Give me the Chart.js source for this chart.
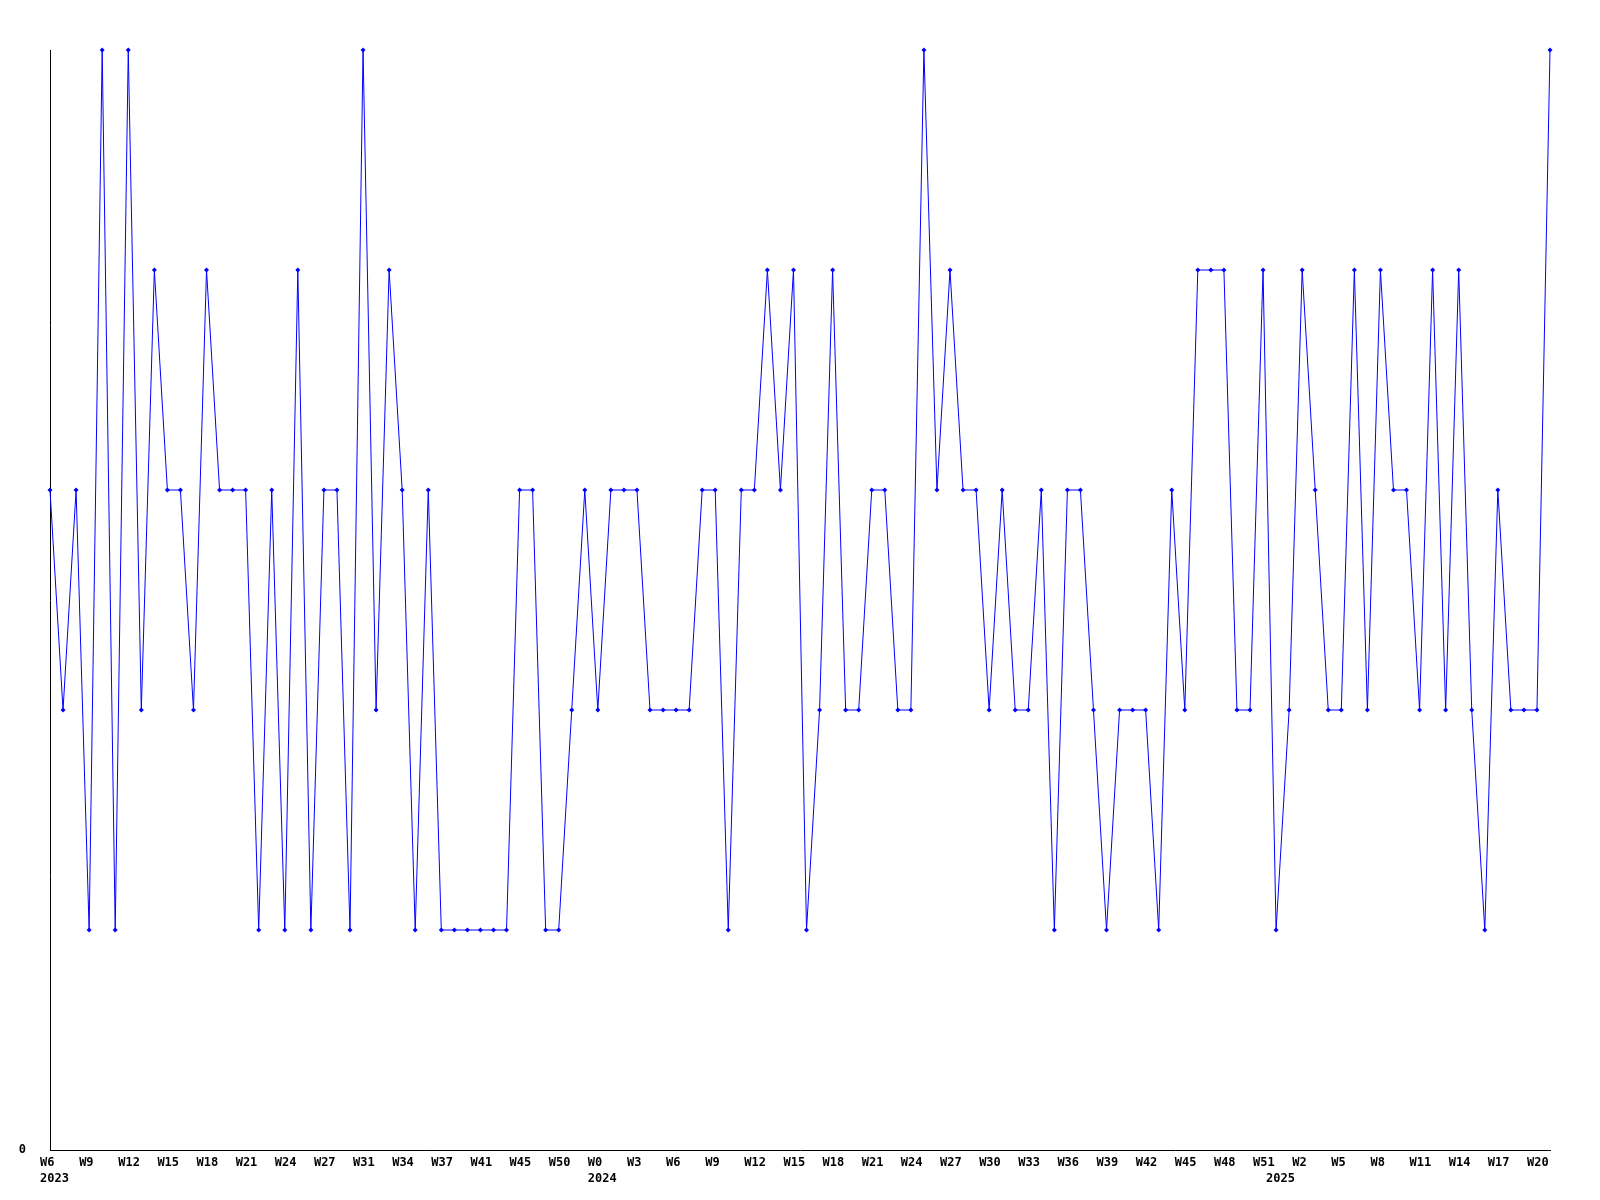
<!DOCTYPE html>
<html><head><meta charset="utf-8">
<style>html,body{margin:0;padding:0;background:#fff;}#wrap{width:1600px;height:1200px;}</style>
<script src="https://cdn.jsdelivr.net/npm/chart.js@4/dist/chart.umd.min.js"></script>
</head><body><div id="wrap"><canvas id="c" width="1600" height="1200"></canvas></div>
<script>
const weekLabels = [
 'W6','W7','W8','W9','W10','W11','W12','W13','W14','W15','W16','W17','W18','W19','W20','W21','W22','W23','W24','W25','W26','W27',
 'W28','W30','W31','W32','W33','W34','W35','W36','W37','W38','W40','W41','W42','W43','W45','W47','W48','W50','W51','W52',
 'W0','W1','W2','W3','W4','W5','W6','W7','W8','W9','W10','W11','W12','W13','W14','W15','W16','W17','W18','W19','W20',
 'W21','W22','W23','W24','W25','W26','W27','W28','W29','W30','W31','W32','W33','W34','W35','W36','W37','W38','W39','W40',
 'W41','W42','W43','W44','W45','W46','W47','W48','W49','W50','W51',
 'W0','W1','W2','W3','W4','W5','W6','W7','W8','W9','W10','W11','W12','W13','W14','W15','W16','W17','W18','W19','W20','W21'
];
const yearIndex = [0, 42, 94];
const yearNames = ['2023', '2024', '2025'];
const values = [
 3,2,3,1,5,1,5,2,4,3,
 3,2,4,3,3,3,1,3,1,4,
 1,3,3,1,5,2,4,3,1,3,
 1,1,1,1,1,1,3,3,1,1,
 2,3,2,3,3,3,2,2,2,2,
 3,3,1,3,3,4,3,4,1,2,
 4,2,2,3,3,2,2,5,3,4,
 3,3,2,3,2,2,3,1,3,3,
 2,1,2,2,2,1,3,2,4,4,
 4,2,2,4,1,2,4,3,2,2,
 4,2,4,3,3,2,4,2,4,2,
 1,3,2,2,2,5
];
const yTickLabels = ['0'];

const font = {family: 'DejaVu Sans Mono', size: 12, weight: 'bold', lineHeight: 1.3};

new Chart(document.getElementById('c').getContext('2d'), {
  type: 'line',
  data: {
    labels: weekLabels,
    datasets: [{
      data: values,
      borderColor: '#0000ff',
      borderWidth: 1,
      pointStyle: 'rectRot',
      pointRadius: 2.5,
      pointBackgroundColor: '#0000ff',
      pointBorderColor: '#0000ff',
      pointBorderWidth: 0,
      tension: 0,
      fill: false,
      clip: false
    }]
  },
  options: {
    responsive: false,
    animation: false,
    devicePixelRatio: 1,
    plugins: {legend: {display: false}, tooltip: {enabled: false}},
    layout: {padding: {top: 50, right: 50, left: 0, bottom: 0}},
    scales: {
      x: {
        type: 'category',
        offset: false,
        grid: {display: false, drawTicks: false},
        border: {display: true, color: '#000', width: 1},
        ticks: {
          autoSkip: false, maxRotation: 0, minRotation: 0,
          align: 'start', labelOffset: -10, padding: 5,
          color: '#000', font: font,
          callback: function (v, i) {
            const k = yearIndex.indexOf(i);
            const week = i % 3 === 0 ? this.getLabelForValue(v) : '';
            if (k >= 0) return [week, yearNames[k]];
            return i % 3 === 0 ? week : null;
          }
        },
        afterFit: s => { s.height = 50; }
      },
      y: {
        min: 0, max: 5,
        grid: {display: false, drawTicks: false},
        border: {display: true, color: '#000', width: 1},
        ticks: {
          stepSize: 1, padding: 24, color: '#000', font: font,
          callback: v => (v === 0 ? yTickLabels[0] : '')
        },
        afterFit: s => { s.width = 50; }
      }
    }
  }
});
</script></body></html>
